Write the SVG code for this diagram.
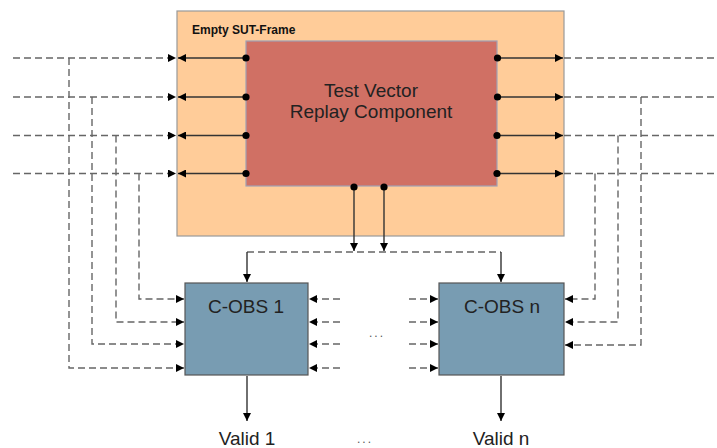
<svg xmlns="http://www.w3.org/2000/svg" width="717" height="448" viewBox="0 0 717 448">
<defs>
<marker id="ah" viewBox="0 0 10 10" refX="10" refY="5" markerWidth="8" markerHeight="8" markerUnits="userSpaceOnUse" orient="auto">
<path d="M0,0 L10,5 L0,10 Z" fill="#000"/>
</marker>
<style>
.dash{fill:none;stroke:#666;stroke-width:1.4;stroke-dasharray:7 4}
.sol{fill:none;stroke:#333;stroke-width:1.4}
.dot{fill:#000}
.lbl{font-family:"Liberation Sans",Arial,sans-serif;font-size:19px;fill:#222;text-anchor:middle}
</style>
</defs>
<rect width="717" height="448" fill="#fff"/>
<g id="sut-frame">
<rect x="177" y="11" width="387" height="225" fill="#FFCC99" stroke="#999" stroke-width="1.2"/>
<text x="192" y="34" font-family="Liberation Sans,Arial,sans-serif" font-size="12" font-weight="bold" fill="#111">Empty SUT-Frame</text>
</g>
<g id="replay">
<rect x="246" y="41" width="251" height="145" fill="#D07064" stroke="#A0A0B4" stroke-width="1.2"/>
<text class="lbl" x="371" y="97">Test Vector</text>
<text class="lbl" x="371" y="118">Replay Component</text>
</g>
<g id="cobs1">
<rect x="185" y="283" width="123" height="92" fill="#789CB2" stroke="#555" stroke-width="1.2"/>
<text class="lbl" x="246" y="313">C-OBS 1</text>
</g>
<g id="cobsn">
<rect x="439" y="283" width="125" height="92" fill="#789CB2" stroke="#555" stroke-width="1.2"/>
<text class="lbl" x="502" y="313">C-OBS n</text>
</g>
<g id="labels">
<text class="lbl" x="247" y="445">Valid 1</text>
<text class="lbl" x="501" y="445">Valid n</text>
<text x="377" y="337" font-family="Liberation Sans,Arial,sans-serif" font-size="12" fill="#555" text-anchor="middle" letter-spacing="2">...</text>
<text x="365" y="443" font-family="Liberation Sans,Arial,sans-serif" font-size="12" fill="#555" text-anchor="middle" letter-spacing="2">...</text>
</g>
<g id="connectors">
<path class="dash" d="M13,58 H176" marker-end="url(#ah)"/>
<path class="dash" d="M13,97 H176" marker-end="url(#ah)"/>
<path class="dash" d="M13,135.5 H176" marker-end="url(#ah)"/>
<path class="dash" d="M13,173.5 H176" marker-end="url(#ah)"/>
<path class="sol" d="M246,58 H178" marker-end="url(#ah)"/>
<path class="sol" d="M246,97 H178" marker-end="url(#ah)"/>
<path class="sol" d="M246,135.5 H178" marker-end="url(#ah)"/>
<path class="sol" d="M246,173.5 H178" marker-end="url(#ah)"/>
<circle class="dot" cx="246" cy="58" r="3.6"/>
<circle class="dot" cx="246" cy="97" r="3.6"/>
<circle class="dot" cx="246" cy="135.5" r="3.6"/>
<circle class="dot" cx="246" cy="173.5" r="3.6"/>
<path class="sol" d="M497,58 H563" marker-end="url(#ah)"/>
<path class="sol" d="M497,97 H563" marker-end="url(#ah)"/>
<path class="sol" d="M497,135.5 H563" marker-end="url(#ah)"/>
<path class="sol" d="M497,173.5 H563" marker-end="url(#ah)"/>
<circle class="dot" cx="497.5" cy="58" r="3.6"/>
<circle class="dot" cx="497.5" cy="97" r="3.6"/>
<circle class="dot" cx="497" cy="135.5" r="3.6"/>
<circle class="dot" cx="497" cy="173.5" r="3.6"/>
<path class="dash" d="M564,58 H717"/>
<path class="dash" d="M564,97 H717"/>
<path class="dash" d="M564,135.5 H717"/>
<path class="dash" d="M564,173.5 H717"/>
<path class="dash" d="M69,58 V368 H184" marker-end="url(#ah)"/>
<path class="dash" d="M92,97 V344 H184" marker-end="url(#ah)"/>
<path class="dash" d="M116,135.5 V322 H184" marker-end="url(#ah)"/>
<path class="dash" d="M139,173.5 V299 H184" marker-end="url(#ah)"/>
<path class="dash" d="M595,173.5 V299 H565" marker-end="url(#ah)"/>
<path class="dash" d="M618,135.5 V322 H565" marker-end="url(#ah)"/>
<path class="dash" d="M641,97 V345 H565" marker-end="url(#ah)"/>
<path class="dash" d="M340,299 H309" marker-end="url(#ah)"/>
<path class="dash" d="M340,322 H309" marker-end="url(#ah)"/>
<path class="dash" d="M340,344 H309" marker-end="url(#ah)"/>
<path class="dash" d="M340,368 H309" marker-end="url(#ah)"/>
<path class="dash" d="M409,299 H438" marker-end="url(#ah)"/>
<path class="dash" d="M409,322 H438" marker-end="url(#ah)"/>
<path class="dash" d="M409,344 H438" marker-end="url(#ah)"/>
<path class="dash" d="M409,368 H438" marker-end="url(#ah)"/>
<path class="sol" d="M354,187 V251" marker-end="url(#ah)"/>
<path class="sol" d="M384,187 V251" marker-end="url(#ah)"/>
<circle class="dot" cx="354" cy="187" r="3.6"/>
<circle class="dot" cx="384" cy="187" r="3.6"/>
<path class="dash" d="M247,252 H501"/>
<path class="sol" d="M247,252 V282" marker-end="url(#ah)"/>
<path class="sol" d="M501,252 V282" marker-end="url(#ah)"/>
<path class="sol" d="M247,376 V421" marker-end="url(#ah)"/>
<path class="sol" d="M501,376 V421" marker-end="url(#ah)"/>
</g>
</svg>
